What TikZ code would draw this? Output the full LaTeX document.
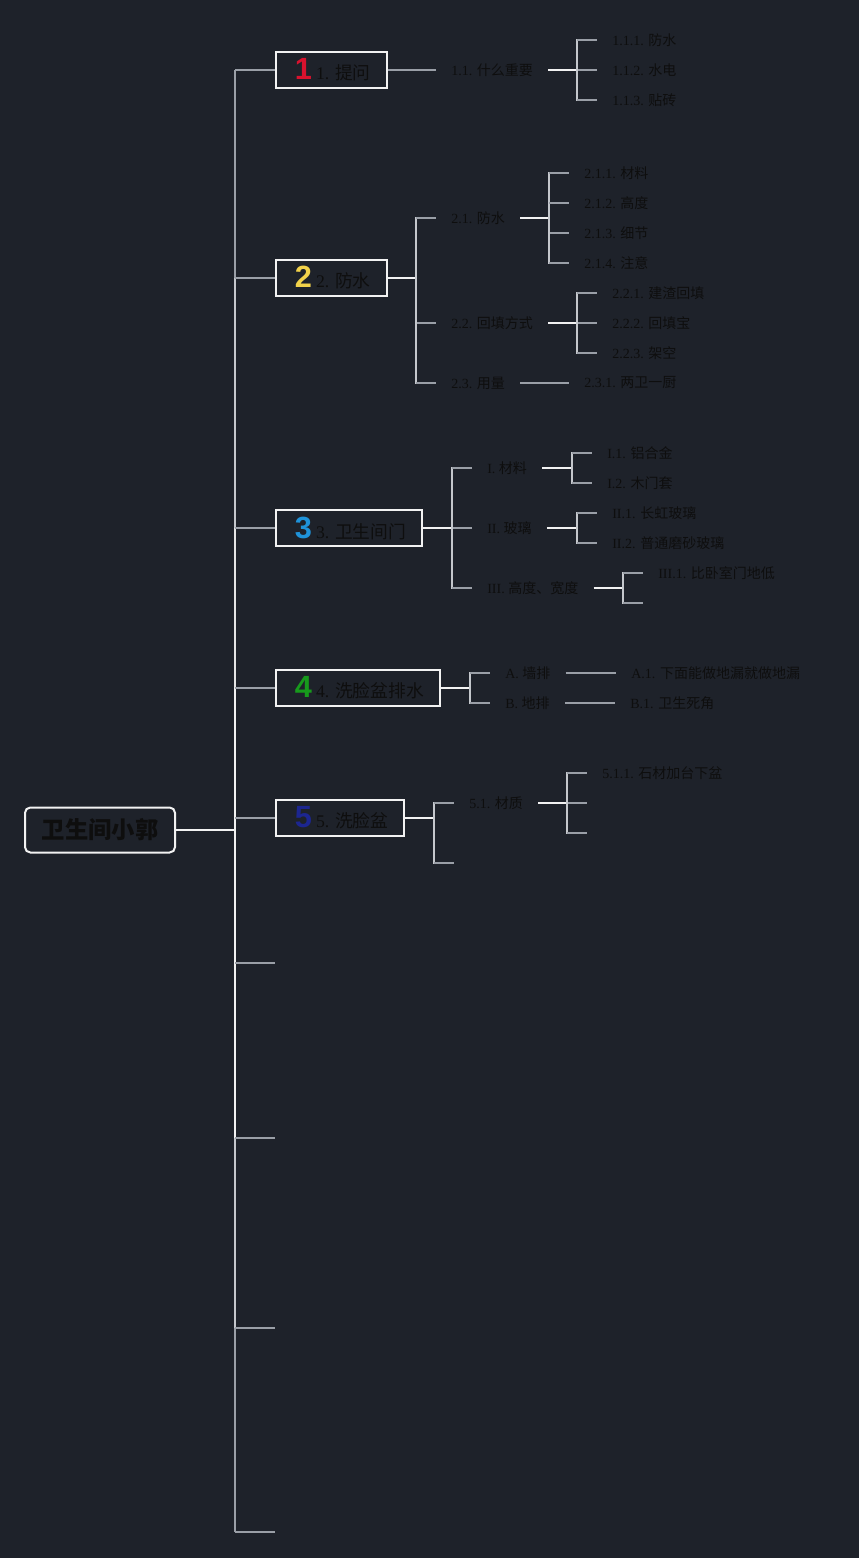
\documentclass[tikz,border=0pt]{standalone}
\usepackage{fontspec}
\setmainfont{Liberation Serif}
\newfontfamily\cjk{Noto Sans CJK SC}
\newfontfamily\digitfont{Liberation Sans}
\usepackage{tikz}
\definecolor{bgdark}{HTML}{1E222A}
\definecolor{inkblack}{HTML}{0E0E0E}
\definecolor{linewhite}{HTML}{F2F2F2}
\definecolor{linelight}{HTML}{C4C7CC}
\definecolor{linegray}{HTML}{9A9FA7}
\definecolor{numred}{HTML}{D8122E}
\definecolor{numyellow}{HTML}{F2D24A}
\definecolor{numblue}{HTML}{1F93DA}
\definecolor{numgreen}{HTML}{179A1C}
\definecolor{numnavy}{HTML}{1C2690}
\newcommand{\lbl}[2]{#1 {\cjk #2}}
\newcommand{\numicon}[2]{\hspace*{2pt}\makebox[13pt][c]{\digitfont\bfseries\fontsize{23}{23}\selectfont\color{#1}#2}\hspace{3pt}}
\tikzset{
  rootbox/.style  = {draw=linewhite,line width=1.5pt,rounded corners=4pt,fill=bgdark,
                     minimum width=112.5pt,minimum height=33.75pt,
                     font=\cjk\bfseries\fontsize{17.5}{17.5}\selectfont,text=inkblack},
  topicbox/.style = {draw=linewhite,line width=1.5pt,fill=bgdark,anchor=west,
                     inner xsep=12pt,inner ysep=0pt,minimum height=27pt,
                     font=\fontsize{13.3}{13.3}\selectfont,text=inkblack},
  subtopic/.style = {anchor=west,inner xsep=11.25pt,inner ysep=1pt,
                     font=\fontsize{10.5}{10.5}\selectfont,text=inkblack},
  stem/.style     = {linewhite,line width=1.5pt},
  bracket/.style  = {linelight,line width=1.4pt,line cap=rect},
  tick/.style     = {linegray,line width=1.4pt}
}
% parent, first child, all children
\newcommand{\fork}[3]{%
  \coordinate (#1-j) at ([xshift=-15pt]#2.west |- #1.east);
  \draw[stem] (#1.east) -- (#1-j);
  \foreach \kid in {#3}{
    \draw[bracket] (#1-j) -- (#1-j |- \kid.west);
    \draw[tick] (#1-j |- \kid.west) -- (\kid.west);
  }
}

\begin{document}
\begin{tikzpicture}[x=0.75pt,y=-0.75pt]
  \fill[bgdark] (0,0) rectangle (859,1558);
  \useasboundingbox (0,0) rectangle (859,1558);

  % root and main topics
  \node[rootbox] (root) at (100,830) {卫生间小郭};
  \node[topicbox] (b1) at (275,70)  {\numicon{numred}{1}\lbl{1.}{提问}};
  \node[topicbox] (b2) at (275,278) {\numicon{numyellow}{2}\lbl{2.}{防水}};
  \node[topicbox] (b3) at (275,528) {\numicon{numblue}{3}\lbl{3.}{卫生间门}};
  \node[topicbox] (b4) at (275,688) {\numicon{numgreen}{4}\lbl{4.}{洗脸盆排水}};
  \node[topicbox] (b5) at (275,818) {\numicon{numnavy}{5}\lbl{5.}{洗脸盆}};
  \node[subtopic] (b6) at (275,963)  {};
  \node[subtopic] (b7) at (275,1138) {};
  \node[subtopic] (b8) at (275,1328) {};
  \node[subtopic] (b9) at (275,1532) {};

  % trunk
  \draw[stem] (root.east) -- (235,830) coordinate (trunk);
  \draw[linegray,line width=1.5pt]     (trunk |- b1.west) -- (trunk |- b2.west);
  \draw[linelight,line width=1.5pt]    (trunk |- b2.west) -- (trunk |- b3.west);
  \draw[black!10!white,line width=1.5pt] (trunk |- b3.west) -- (trunk |- b4.west);
  \draw[stem] (trunk |- b4.west) -- (trunk |- b7.west);
  \draw[linelight,line width=1.5pt]    (trunk |- b7.west) -- (trunk |- b8.west);
  \draw[linegray,line width=1.5pt]     (trunk |- b8.west) -- (trunk |- b9.west);
  \foreach \b in {b1,b2,b3,b4,b5,b6,b7,b8,b9}
    \draw[tick] (trunk |- \b.west) -- (\b.west);

  % 1
  \node[subtopic] (n11)  at (436,70)  {\lbl{1.1.}{什么重要}};
  \node[subtopic] (n111) at (597,40)  {\lbl{1.1.1.}{防水}};
  \node[subtopic] (n112) at (597,70)  {\lbl{1.1.2.}{水电}};
  \node[subtopic] (n113) at (597,100) {\lbl{1.1.3.}{贴砖}};
  \draw[tick] (b1.east) -- (n11.west);
  \fork{n11}{n111}{n111,n112,n113}

  % 2
  \node[subtopic] (n21)  at (436,218) {\lbl{2.1.}{防水}};
  \node[subtopic] (n22)  at (436,323) {\lbl{2.2.}{回填方式}};
  \node[subtopic] (n23)  at (436,383) {\lbl{2.3.}{用量}};
  \node[subtopic] (n211) at (569,173) {\lbl{2.1.1.}{材料}};
  \node[subtopic] (n212) at (569,203) {\lbl{2.1.2.}{高度}};
  \node[subtopic] (n213) at (569,233) {\lbl{2.1.3.}{细节}};
  \node[subtopic] (n214) at (569,263) {\lbl{2.1.4.}{注意}};
  \node[subtopic] (n221) at (597,293) {\lbl{2.2.1.}{建渣回填}};
  \node[subtopic] (n222) at (597,323) {\lbl{2.2.2.}{回填宝}};
  \node[subtopic] (n223) at (597,353) {\lbl{2.2.3.}{架空}};
  \node[subtopic] (n231) at (569,383) {\lbl{2.3.1.}{两卫一厨}};
  \fork{b2}{n21}{n21,n22,n23}
  \fork{n21}{n211}{n211,n212,n213,n214}
  \fork{n22}{n221}{n221,n222,n223}
  \draw[tick] (n23.east) -- (n231.west);

  % 3
  \node[subtopic] (n31)  at (472,468) {\lbl{I.}{材料}};
  \node[subtopic] (n32)  at (472,528) {\lbl{II.}{玻璃}};
  \node[subtopic] (n33)  at (472,588) {\lbl{III.}{高度、宽度}};
  \node[subtopic] (n311) at (592,453) {\lbl{I.1.}{铝合金}};
  \node[subtopic] (n312) at (592,483) {\lbl{I.2.}{木门套}};
  \node[subtopic] (n321) at (597,513) {\lbl{II.1.}{长虹玻璃}};
  \node[subtopic] (n322) at (597,543) {\lbl{II.2.}{普通磨砂玻璃}};
  \node[subtopic] (n331) at (643,573) {\lbl{III.1.}{比卧室门地低}};
  \node[subtopic] (n332) at (643,603) {};
  \fork{b3}{n31}{n31,n32,n33}
  \fork{n31}{n311}{n311,n312}
  \fork{n32}{n321}{n321,n322}
  \fork{n33}{n331}{n331,n332}

  % 4
  \node[subtopic] (n41)  at (490,673) {\lbl{A.}{墙排}};
  \node[subtopic] (n42)  at (490,703) {\lbl{B.}{地排}};
  \node[subtopic] (n411) at (616,673) {\lbl{A.1.}{下面能做地漏就做地漏}};
  \node[subtopic] (n421) at (615,703) {\lbl{B.1.}{卫生死角}};
  \fork{b4}{n41}{n41,n42}
  \draw[tick] (n41.east) -- (n411.west);
  \draw[tick] (n42.east) -- (n421.west);

  % 5
  \node[subtopic] (n51)  at (454,803) {\lbl{5.1.}{材质}};
  \node[subtopic] (n52)  at (454,863) {};
  \node[subtopic] (n511) at (587,773) {\lbl{5.1.1.}{石材加台下盆}};
  \node[subtopic] (n512) at (587,803) {};
  \node[subtopic] (n513) at (587,833) {};
  \fork{b5}{n51}{n51,n52}
  \fork{n51}{n511}{n511,n512,n513}
\end{tikzpicture}
\end{document}
